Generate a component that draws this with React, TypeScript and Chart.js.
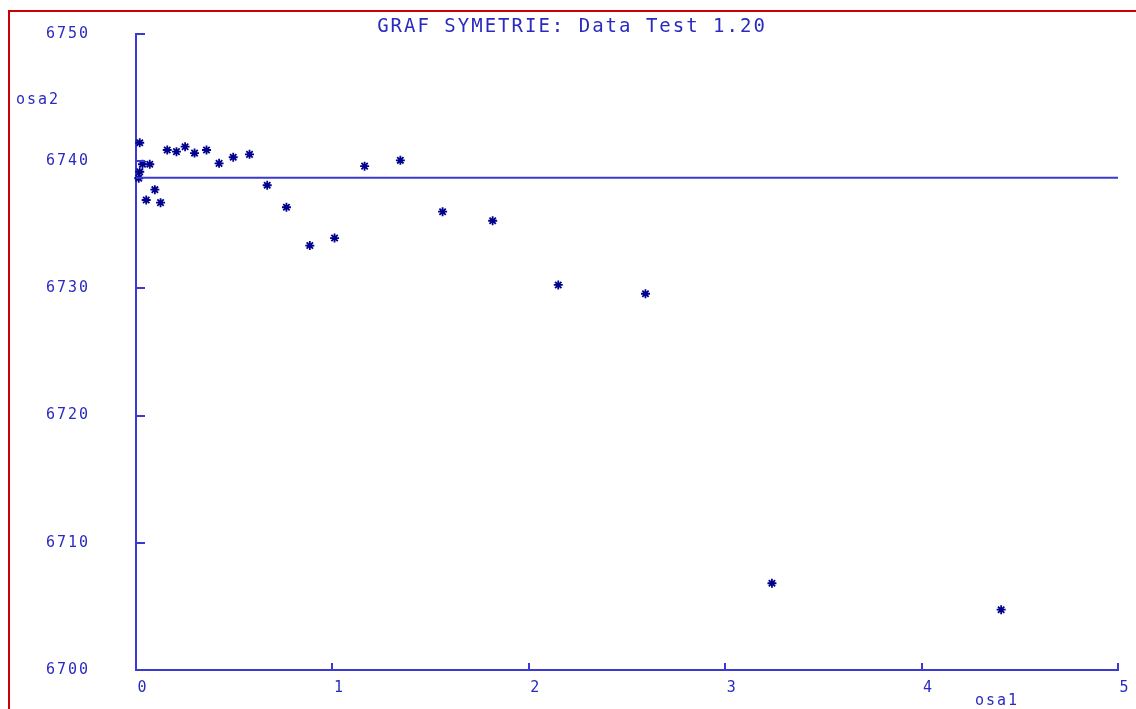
import { useEffect, useRef } from "react";
import { Chart, registerables } from "chart.js";

Chart.register(...registerables);

const TITLE = "GRAF SYMETRIE: Data Test 1.20";
const X_LABEL = "osa1";
const Y_LABEL = "osa2";
const X_TICKS = [0, 1, 2, 3, 4, 5];
const Y_TICKS = [6700, 6710, 6720, 6730, 6740, 6750];

const OSA1 = [
  0.014, 0.019, 0.019, 0.033, 0.052, 0.07, 0.096, 0.125, 0.159, 0.206,
  0.25, 0.298, 0.359, 0.423, 0.495, 0.578, 0.668, 0.766, 0.885, 1.011,
  1.164, 1.346, 1.561, 1.816, 2.15, 2.594, 3.238, 4.405,
];
const OSA2 = [
  6738.66, 6741.45, 6739.17, 6739.76, 6736.95, 6739.76, 6737.76, 6736.74,
  6740.88, 6740.75, 6741.14, 6740.64, 6740.88, 6739.83, 6740.31, 6740.54,
  6738.11, 6736.38, 6733.37, 6733.96, 6739.61, 6740.07, 6736.03, 6735.32,
  6730.27, 6729.58, 6706.82, 6704.74,
];
const MEAN_OSA2 = 6738.7;

const AXIS_COLOR = "#3a3ad0";
const TEXT_COLOR = "#2a2ac0";
const POINT_COLOR = "#00008f";
const FONT = '"DejaVu Sans Mono"';

const decor = {
  id: "decor",
  beforeDraw(chart: any) {
    chart.ctx.letterSpacing = "2px";
  },
  afterDraw(chart: any) {
    const { ctx, chartArea, scales } = chart;
    ctx.save();
    ctx.strokeStyle = AXIS_COLOR;
    ctx.lineWidth = 2;
    ctx.beginPath();
    for (const v of Y_TICKS.slice(1)) {
      const py = Math.round(scales.y.getPixelForValue(v));
      ctx.moveTo(chartArea.left, py);
      ctx.lineTo(chartArea.left + 9, py);
    }
    for (const v of X_TICKS.slice(1)) {
      const px = Math.round(scales.x.getPixelForValue(v));
      ctx.moveTo(px, chartArea.bottom);
      ctx.lineTo(px, chartArea.bottom - 7);
    }
    ctx.stroke();

    ctx.fillStyle = TEXT_COLOR;
    ctx.textBaseline = "middle";
    ctx.textAlign = "center";
    (ctx as any).letterSpacing = "2px";
    ctx.font = `19px ${FONT}`;
    ctx.fillText(TITLE, chart.width / 2 + 4, 27);
    ctx.textAlign = "left";
    ctx.font = `15px ${FONT}`;
    ctx.fillText(Y_LABEL, 16, 100);
    ctx.fillText(X_LABEL, 975, 701);
    ctx.restore();
  },
};

export default function App() {
  const ref = useRef<HTMLCanvasElement | null>(null);

  useEffect(() => {
    if (!ref.current) return;
    const chart = new Chart(ref.current, {
      type: "scatter",
      data: {
        datasets: [
          {
            type: "line",
            label: "mean",
            data: [
              { x: X_TICKS[0], y: MEAN_OSA2 },
              { x: X_TICKS[X_TICKS.length - 1], y: MEAN_OSA2 },
            ],
            borderColor: AXIS_COLOR,
            borderWidth: 2,
            pointRadius: 0,
            fill: false,
            clip: false as any,
          },
          {
            label: "data",
            data: OSA1.map((x, i) => ({ x, y: OSA2[i] })),
            pointStyle: "star",
            pointRadius: 4.5,
            borderWidth: 1.8,
            borderColor: POINT_COLOR,
            backgroundColor: POINT_COLOR,
            clip: false as any,
          },
        ],
      },
      options: {
        animation: false,
        responsive: false,
        layout: { padding: { left: 0, right: 18, top: 34, bottom: 0 } },
        plugins: {
          legend: { display: false },
          tooltip: { enabled: false },
          title: { display: false },
        },
        scales: {
          x: {
            type: "linear",
            min: 0,
            max: 5,
            afterFit: (s: any) => {
              s.height = 39;
              s.paddingLeft = 0;
              s.paddingRight = 0;
            },
            afterBuildTicks: (s: any) => {
              s.ticks = X_TICKS.map((v) => ({ value: v }));
            },
            ticks: {
              color: TEXT_COLOR,
              font: { family: FONT, size: 15 },
              padding: 9,
              labelOffset: 7,
              maxRotation: 0,
              callback: (v: any) => String(v),
            },
            grid: { display: true, drawOnChartArea: false, drawTicks: false },
            border: { display: true, color: AXIS_COLOR, width: 2 },
          },
          y: {
            type: "linear",
            min: 6700,
            max: 6750,
            afterFit: (s: any) => {
              s.width = 136;
              s.paddingTop = 0;
              s.paddingBottom = 0;
            },
            afterBuildTicks: (s: any) => {
              s.ticks = Y_TICKS.map((v) => ({ value: v }));
            },
            ticks: {
              color: TEXT_COLOR,
              font: { family: FONT, size: 15 },
              padding: 46,
              callback: (v: any) => String(v),
            },
            grid: { display: true, drawOnChartArea: false, drawTicks: false },
            border: { display: true, color: AXIS_COLOR, width: 2 },
          },
        },
      },
      plugins: [decor],
    });
    return () => chart.destroy();
  }, []);

  return (
    <div
      style={{
        position: "fixed",
        left: 0,
        top: 0,
        width: 1136,
        height: 709,
        background: "#ffffff",
        overflow: "hidden",
      }}
    >
      <div
        style={{
          position: "absolute",
          left: 8,
          top: 10,
          width: 1200,
          height: 800,
          borderLeft: "2px solid #cc0000",
          borderTop: "2px solid #cc0000",
        }}
      />
      <canvas
        ref={ref}
        width={1136}
        height={709}
        style={{ position: "absolute", left: 0, top: 0 }}
      />
    </div>
  );
}
